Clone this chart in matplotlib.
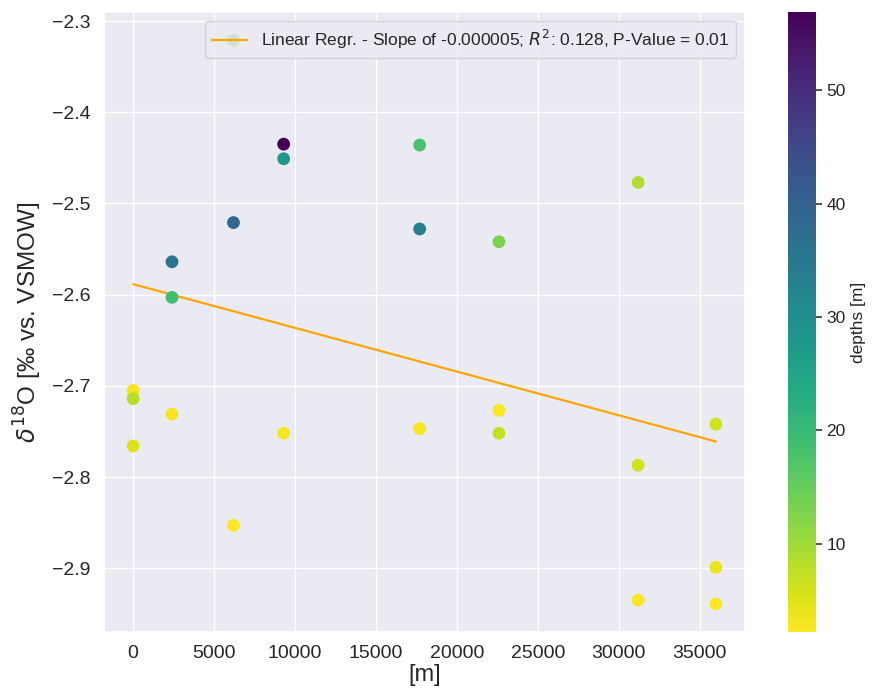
import numpy as np
import matplotlib
matplotlib.use("Agg")
import matplotlib.pyplot as plt
import seaborn as sns

# distance along profile [m]
distance = [0, 0, 0,
            2400, 2400, 2400,
            6200, 6200, 6200,
            9300, 9300, 9300,
            17700, 17700, 17700,
            22600, 22600, 22600,
            31200, 31200, 31200,
            36000, 36000, 36000]
# delta 18O [permil vs VSMOW]
d18o = [-2.705, -2.714, -2.766,
        -2.564, -2.603, -2.731,
        -2.521, -2.321, -2.853,
        -2.435, -2.451, -2.752,
        -2.436, -2.528, -2.747,
        -2.542, -2.727, -2.752,
        -2.477, -2.787, -2.935,
        -2.742, -2.899, -2.939]
# sample depths [m]
depths = [3.0, 8.0, 5.0,
          36.0, 19.0, 3.0,
          39.0, 15.0, 2.5,
          56.9, 28.0, 3.0,
          18.0, 33.5, 3.0,
          13.0, 2.5, 7.0,
          8.8, 6.0, 2.2,
          6.0, 4.0, 2.5]

legend_label = "Linear Regr. - Slope of -0.000005; $R^2$: 0.128, P-Value = 0.01"

sns.set_theme(style="darkgrid")
plt.rcParams['font.family'] = ['Liberation Sans', 'DejaVu Sans']

x = np.array(distance, dtype=float)
y = np.array(d18o)
slope, intercept = np.polyfit(x, y, 1)
xfit = np.array([x.min(), x.max()])

fig = plt.figure(figsize=(8.78, 7.0), dpi=100)
ax = fig.add_axes([104 / 878, 68 / 700, 641 / 878, 620 / 700])
cax = fig.add_axes([788 / 878, 68 / 700, 28 / 878, 620 / 700])

sc = ax.scatter(x, y, c=depths, cmap="viridis_r", s=85, linewidths=0, zorder=3)
ax.plot(xfit, slope * xfit + intercept, color="orange", lw=1.6, label=legend_label, zorder=2)

ax.set_xlabel("[m]", fontsize=17, labelpad=1)
ax.set_ylabel(r"$\delta^{18}$O [‰ vs. VSMOW]", fontsize=17.5, labelpad=6)
ax.tick_params(labelsize=14)
ax.legend(loc="upper right", fontsize=12.5, framealpha=0.8)

cb = fig.colorbar(sc, cax=cax)
cb.set_label("depths [m]", fontsize=12.5)
cb.ax.tick_params(labelsize=12.5, length=4, width=1.2, color="#333333")
cb.outline.set_visible(False)

fig.savefig("out.png", dpi=100)
